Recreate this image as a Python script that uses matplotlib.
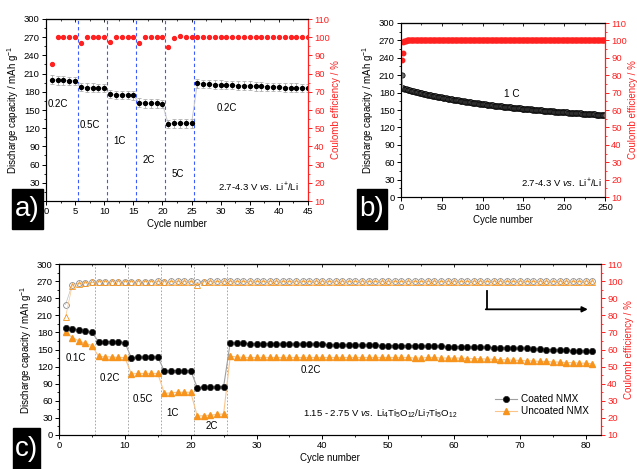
import matplotlib
matplotlib.use("Agg")
import matplotlib.pyplot as plt
from matplotlib.ticker import MultipleLocator, FuncFormatter
from matplotlib.patches import Rectangle

plt.rcParams['font.family'] = ['Liberation Sans', 'DejaVu Sans']
plt.rcParams['mathtext.fontset'] = 'custom'
plt.rcParams['mathtext.rm'] = 'Liberation Sans'
plt.rcParams['mathtext.it'] = 'Liberation Sans:italic'
plt.rcParams['mathtext.bf'] = 'Liberation Sans:bold'
plt.rcParams['font.size'] = 6.8
plt.rcParams['axes.linewidth'] = 0.8

# ---- panel a : rate test, 2.7-4.3 V ----
cyc_a = list(range(1, 46))
cap_a = [200, 199, 199, 198, 198, 188, 187, 187, 186, 186,
         176, 175, 175, 175, 174, 162, 161, 161, 161, 160,
         127, 128, 128, 128, 128, 194, 193, 193, 192, 192,
         191, 191, 190, 190, 190, 189, 189, 188, 188, 188,
         187, 187, 187, 186, 186]
err_a = 7
ce_a = [85.5, 100, 100, 100, 100, 97, 100, 100, 100, 100,
        97.5, 100, 100, 100, 100, 97, 100, 100, 100, 100,
        94.5, 99.5, 100.6, 100.3, 100.2, 100, 100, 100, 100, 100,
        100, 100, 100, 100, 100, 100, 100, 100, 100, 100,
        100, 100, 100, 100, 100]
rates_a = ['0.2C', '0.5C', '1C', '2C', '5C', '0.2C']
rate_pos_a = [(2.1, 160), (7.6, 125), (12.7, 99), (17.7, 67), (22.7, 44), (31.1, 153)]
step_lines = [5.5, 10.5, 15.5, 20.5, 25.5]

# ---- panel b : 1C cycling, 250 cycles ----
cyc_b = list(range(1, 251))
cap_b = [211.0, 188.0, 187.5, 187.0, 186.6, 186.1, 185.7, 185.2, 184.8, 184.4,
         184.0, 183.6, 183.2, 182.8, 182.4, 182.0, 181.6, 181.2, 180.9, 180.5,
         180.2, 179.8, 179.5, 179.1, 178.8, 178.5, 178.1, 177.8, 177.5, 177.2,
         176.9, 176.6, 176.3, 176.0, 175.7, 175.4, 175.1, 174.8, 174.5, 174.2,
         174.0, 173.7, 173.4, 173.1, 172.9, 172.6, 172.3, 172.1, 171.8, 171.6,
         171.3, 171.0, 170.8, 170.5, 170.3, 170.0, 169.8, 169.5, 169.3, 169.0,
         168.8, 168.5, 168.3, 168.0, 167.8, 167.6, 167.3, 167.1, 166.9, 166.6,
         166.4, 166.2, 165.9, 165.7, 165.5, 165.3, 165.0, 164.8, 164.6, 164.4,
         164.2, 164.0, 163.7, 163.5, 163.3, 163.1, 162.9, 162.7, 162.5, 162.3,
         162.1, 161.9, 161.7, 161.5, 161.3, 161.1, 160.9, 160.7, 160.5, 160.3,
         160.1, 159.9, 159.7, 159.5, 159.3, 159.2, 159.0, 158.8, 158.6, 158.4,
         158.3, 158.1, 157.9, 157.7, 157.6, 157.4, 157.2, 157.1, 156.9, 156.7,
         156.6, 156.4, 156.2, 156.1, 155.9, 155.8, 155.6, 155.4, 155.3, 155.1,
         155.0, 154.8, 154.7, 154.5, 154.4, 154.2, 154.1, 153.9, 153.8, 153.6,
         153.5, 153.3, 153.2, 153.1, 152.9, 152.8, 152.6, 152.5, 152.4, 152.2,
         152.1, 151.9, 151.8, 151.7, 151.5, 151.4, 151.3, 151.1, 151.0, 150.9,
         150.7, 150.6, 150.5, 150.3, 150.2, 150.1, 150.0, 149.8, 149.7, 149.6,
         149.5, 149.3, 149.2, 149.1, 149.0, 148.8, 148.7, 148.6, 148.5, 148.4,
         148.2, 148.1, 148.0, 147.9, 147.8, 147.7, 147.5, 147.4, 147.3, 147.2,
         147.1, 147.0, 146.9, 146.8, 146.6, 146.5, 146.4, 146.3, 146.2, 146.1,
         146.0, 145.9, 145.8, 145.7, 145.6, 145.5, 145.4, 145.3, 145.2, 145.1,
         145.0, 144.9, 144.8, 144.7, 144.6, 144.5, 144.4, 144.3, 144.2, 144.1,
         144.0, 143.9, 143.8, 143.7, 143.6, 143.5, 143.4, 143.3, 143.2, 143.1,
         143.0, 142.9, 142.8, 142.7, 142.6, 142.5, 142.4, 142.3, 142.2, 142.1,
         142.0, 141.9, 141.8, 141.7, 141.6, 141.5, 141.4, 141.3, 141.2, 141.1]
ce_b = [88.5, 92.5, 99.0, 99.6, 99.8, 99.9, 100, 100, 100, 100,
        100, 100, 100, 100, 100, 100, 100, 100, 100, 100,
        100, 100, 100, 100, 100, 100, 100, 100, 100, 100,
        100, 100, 100, 100, 100, 100, 100, 100, 100, 100,
        100, 100, 100, 100, 100, 100, 100, 100, 100, 100,
        100, 100, 100, 100, 100, 100, 100, 100, 100, 100,
        100, 100, 100, 100, 100, 100, 100, 100, 100, 100,
        100, 100, 100, 100, 100, 100, 100, 100, 100, 100,
        100, 100, 100, 100, 100, 100, 100, 100, 100, 100,
        100, 100, 100, 100, 100, 100, 100, 100, 100, 100,
        100, 100, 100, 100, 100, 100, 100, 100, 100, 100,
        100, 100, 100, 100, 100, 100, 100, 100, 100, 100,
        100, 100, 100, 100, 100, 100, 100, 100, 100, 100,
        100, 100, 100, 100, 100, 100, 100, 100, 100, 100,
        100, 100, 100, 100, 100, 100, 100, 100, 100, 100,
        100, 100, 100, 100, 100, 100, 100, 100, 100, 100,
        100, 100, 100, 100, 100, 100, 100, 100, 100, 100,
        100, 100, 100, 100, 100, 100, 100, 100, 100, 100,
        100, 100, 100, 100, 100, 100, 100, 100, 100, 100,
        100, 100, 100, 100, 100, 100, 100, 100, 100, 100,
        100, 100, 100, 100, 100, 100, 100, 100, 100, 100,
        100, 100, 100, 100, 100, 100, 100, 100, 100, 100,
        100, 100, 100, 100, 100, 100, 100, 100, 100, 100,
        100, 100, 100, 100, 100, 100, 100, 100, 100, 100,
        100, 100, 100, 100, 100, 100, 100, 100, 100, 100]

# ---- panel c : full cell vs LTO, coated / uncoated ----
cyc_c = list(range(1, 82))
cap_coated = [188, 186, 184, 182, 180, 164, 164, 164, 163, 162,
              135, 136, 136, 136, 137, 112, 113, 113, 113, 113,
              83, 84, 84, 84, 85, 162, 161, 161, 160, 160,
              160, 160, 159, 159, 159, 159, 159, 159, 159, 159,
              158, 158, 158, 158, 158, 158, 158, 158, 157, 157,
              157, 157, 157, 156, 156, 156, 156, 156, 155, 155,
              155, 155, 154, 154, 154, 153, 153, 153, 152, 152,
              152, 151, 151, 150, 150, 149, 149, 148, 148, 147,
              147]
cap_uncoated = [181, 171, 165, 161, 157, 138, 137, 137, 136, 136,
                107, 108, 108, 108, 108, 73, 74, 75, 75, 75,
                33, 34, 35, 36, 37, 138, 137, 136, 136, 136,
                136, 136, 136, 136, 136, 136, 136, 136, 136, 136,
                136, 136, 136, 136, 136, 136, 136, 136, 136, 136,
                136, 136, 136, 135, 135, 136, 136, 135, 135, 135,
                135, 134, 134, 134, 133, 133, 132, 132, 131, 131,
                130, 130, 129, 129, 128, 128, 127, 127, 126, 126,
                125]
err_c = 5
ce_coated = [86.3, 98.0, 98.7, 99.0, 99.2, 99.7, 99.7, 99.7, 99.7, 99.7,
             99.7, 99.7, 99.7, 99.7, 99.8, 99.7, 99.8, 99.8, 99.8, 99.8,
             99.3, 99.7, 99.8, 99.8, 99.8, 99.8, 99.8, 99.8, 99.8, 99.8,
             99.8, 99.8, 99.8, 99.8, 99.8, 99.8, 99.8, 99.8, 99.8, 99.8,
             99.8, 99.8, 99.8, 99.8, 99.8, 99.8, 99.8, 99.8, 99.8, 99.8,
             99.8, 99.8, 99.8, 99.8, 99.8, 99.8, 99.8, 99.8, 99.8, 99.8,
             99.8, 99.8, 99.8, 99.8, 99.8, 99.8, 99.8, 99.8, 99.8, 99.8,
             99.8, 99.8, 99.8, 99.8, 99.8, 99.8, 99.8, 99.8, 99.8, 99.8,
             99.8]
ce_uncoated = [79.0, 97.3, 98.5, 99.0, 99.3, 99.6, 99.7, 99.7, 99.7, 99.7,
               99.6, 99.7, 99.7, 99.7, 99.7, 99.6, 99.7, 99.7, 99.7, 99.7,
               98.0, 99.6, 99.7, 99.7, 99.7, 99.7, 99.7, 99.7, 99.7, 99.7,
               99.7, 99.7, 99.7, 99.7, 99.7, 99.7, 99.7, 99.7, 99.7, 99.7,
               99.7, 99.7, 99.7, 99.7, 99.7, 99.7, 99.7, 99.7, 99.7, 99.7,
               99.7, 99.7, 99.7, 99.7, 99.7, 99.7, 99.7, 99.7, 99.7, 99.7,
               99.7, 99.7, 99.7, 99.7, 99.7, 99.7, 99.7, 99.7, 99.7, 99.7,
               99.7, 99.7, 99.7, 99.7, 99.7, 99.7, 99.7, 99.7, 99.7, 99.7,
               99.7]
rates_c = ['0.1C', '0.2C', '0.5C', '1C', '2C', '0.2C']
rate_pos_c = [(2.6, 135), (7.7, 100), (12.8, 63), (17.3, 38), (23.2, 16), (38.2, 114)]

RED = '#ff2020'
ORANGE = '#f7941d'
W, H = 637, 469

fig = plt.figure(figsize=(W / 100, H / 100), dpi=100)


def px_axes(x0, y0, x1, y1):
    return fig.add_axes([x0 / W, 1 - y1 / H, (x1 - x0) / W, (y1 - y0) / H])


def style(ax, ax2, xlim, xmaj, xmin):
    ax.set_xlim(*xlim)
    ax.set_ylim(0, 300)
    ax2.set_ylim(10, 110)
    ax.xaxis.set_major_locator(MultipleLocator(xmaj))
    ax.xaxis.set_minor_locator(MultipleLocator(xmin))
    ax.yaxis.set_major_locator(MultipleLocator(30))
    ax.yaxis.set_minor_locator(MultipleLocator(15))
    ax2.yaxis.set_major_locator(MultipleLocator(10))
    ax2.yaxis.set_minor_locator(MultipleLocator(5))
    ax.tick_params(which='major', length=3, width=0.7, pad=1.5, labelsize=6.8)
    ax.tick_params(which='minor', length=1.5, width=0.6)
    ax2.tick_params(which='major', length=3, width=0.7, pad=1.5, labelsize=6.8,
                    colors=RED)
    ax2.tick_params(which='minor', length=1.5, width=0.6, colors=RED)
    ax2.spines['right'].set_color(RED)
    ax2.spines['right'].set_linewidth(0.9)
    ax.spines['right'].set_visible(False)
    sec = ax.secondary_xaxis('top')
    sec.xaxis.set_major_locator(MultipleLocator(xmaj))
    sec.xaxis.set_minor_locator(MultipleLocator(xmin))
    sec.tick_params(which='major', direction='in', length=2.5, width=0.6, labeltop=False)
    sec.tick_params(which='minor', direction='in', length=1.3, width=0.5)
    ax.set_xlabel('Cycle number', fontsize=7, labelpad=2)
    ax.set_ylabel('Discharge capacity / mAh g$^{-1}$', fontsize=7, labelpad=2)
    ax2.set_ylabel('Coulomb efficiency / %', fontsize=7, color=RED, labelpad=1)


def tag(x0, y0, x1, y1, s):
    fig.add_artist(Rectangle((x0 / W, 1 - y1 / H), (x1 - x0) / W, (y1 - y0) / H,
                             transform=fig.transFigure, color='black', zorder=10))
    fig.text((x0 + x1) / 2 / W, 1 - (y0 + y1) / 2 / H, s, color='white', fontsize=20,
             ha='center', va='center', zorder=11)


# panel a
ax_a = px_axes(46, 19, 308, 201)
ax_a2 = ax_a.twinx()
style(ax_a, ax_a2, (0, 45), 5, 2.5)
# the "0" of the capacity axis sits under the a) tag in the original
ax_a.yaxis.set_major_formatter(FuncFormatter(lambda v, p: '' if v == 0 else f'{v:.0f}'))
for xv in step_lines:
    ax_a.axvline(xv, color='#3b5bff', ls=(0, (3, 2.5)), lw=0.8)
ax_a.plot(cyc_a, cap_a, color='#c8c8c8', lw=0.7, zorder=2)
ax_a.errorbar(cyc_a, cap_a, yerr=err_a, fmt='o', ms=2.8, color='black',
              ecolor='#b0b0b0', elinewidth=0.7, capsize=1.5, capthick=0.6, zorder=3)
ax_a2.plot(cyc_a, ce_a, 'o', ms=2.8, color=RED, mec=RED)
for s, (xx, yy) in zip(rates_a, rate_pos_a):
    ax_a.text(xx, yy, s, ha='center', va='center', fontsize=7)
ax_a.text(0.965, 0.045, '2.7-4.3 V $\\it{vs.}$ Li$^{+}$/Li', transform=ax_a.transAxes,
          ha='right', va='bottom', fontsize=6.8)

# panel b
ax_b = px_axes(401, 23, 605, 197)
ax_b2 = ax_b.twinx()
style(ax_b, ax_b2, (0, 250), 50, 25)
ax_b.plot(cyc_b, cap_b, 'o', ms=3.8, mfc='#707070', mec='black', mew=0.5)
ax_b.plot(cyc_b[:2], cap_b[:2], color='#999999', lw=0.6)
ax_b2.plot(cyc_b, ce_b, 'o', ms=3.2, color=RED, mec=RED)
ax_b.text(136, 177, '1 C', ha='center', va='center', fontsize=7.2)
ax_b.text(0.985, 0.045, '2.7-4.3 V $\\it{vs.}$ Li$^{+}$/Li', transform=ax_b.transAxes,
          ha='right', va='bottom', fontsize=6.8)

# panel c
ax_c = px_axes(59, 264, 601, 435)
ax_c2 = ax_c.twinx()
style(ax_c, ax_c2, (0, 82.3), 10, 5)
for xv in step_lines:
    ax_c.axvline(xv, color='#9a9a9a', ls=(0, (2, 2)), lw=0.6)
eb = ax_c.errorbar(cyc_c, cap_coated, yerr=err_c, fmt='-o', ms=4.5, color='#a0a0a0',
                   mfc='black', mec='#222222', mew=0.5, ecolor='#b5b5b5', elinewidth=0.6,
                   capsize=1.2, lw=0.8, zorder=3)
un, = ax_c.plot(cyc_c, cap_uncoated, '-^', ms=4.8, color='#fbc58a', mfc=ORANGE, mec=ORANGE,
                lw=0.8, zorder=2)
ax_c2.plot(cyc_c, ce_coated, '-o', ms=4.2, color='#c0c0c0', mfc='none', mec='#8a8a8a',
           mew=0.6, lw=0.5)
ax_c2.plot(cyc_c, ce_uncoated, '-^', ms=4.2, color='#fbc58a', mfc='none', mec=ORANGE,
           mew=0.6, lw=0.5)
for s, (xx, yy) in zip(rates_c, rate_pos_c):
    ax_c.text(xx, yy, s, ha='center', va='center', fontsize=7)
ax_c.text(37, 38, '1.15 - 2.75 V $\\it{vs.}$ Li$_4$Ti$_5$O$_{12}$/Li$_7$Ti$_5$O$_{12}$',
          ha='left', va='center', fontsize=6.8)
ax_c2.plot([65, 65], [94, 83.5], color='black', lw=1.3)
ax_c2.annotate('', xy=(80.3, 83.5), xytext=(64.8, 83.5),
               arrowprops=dict(arrowstyle='-|>', color='black', lw=1.3,
                               mutation_scale=8, shrinkA=0, shrinkB=0))
ax_c.legend([eb[0], un], ['Coated NMX', 'Uncoated NMX'], loc='lower right',
            bbox_to_anchor=(0.99, 0.07), frameon=False, fontsize=7.2, handlelength=2.2,
            handletextpad=0.4, labelspacing=0.2, borderpad=0.2)

tag(12, 189, 43, 229, 'a)')
tag(357, 189, 387, 229, 'b)')
tag(13, 428, 40, 469, 'c)')

fig.savefig('out.png', dpi=100)
